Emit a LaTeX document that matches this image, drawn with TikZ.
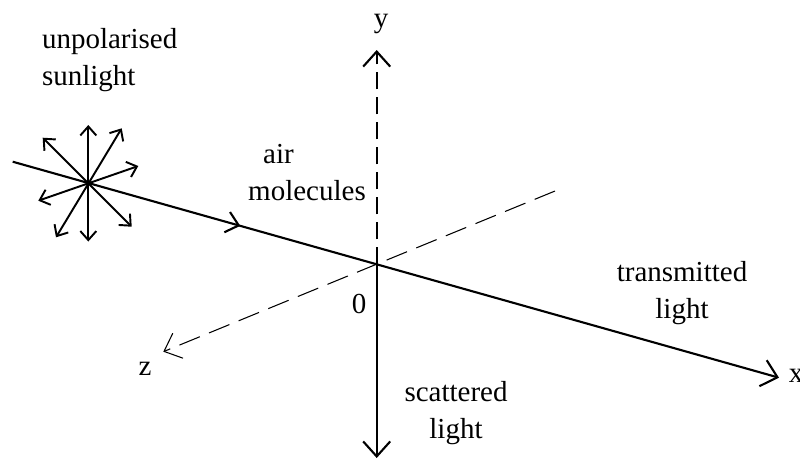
\documentclass[tikz,border=0pt]{standalone}
\usepackage{fontspec}
\setmainfont{Liberation Serif}
\usetikzlibrary{arrows.meta,decorations.markings}

\begin{document}
\begin{tikzpicture}[
  x = 0.02cm, y = -0.02cm,
  every node/.style = {font=\fontsize{16.5}{21}\selectfont, inner sep=0pt},
  %% line styles
  ray/.style     = {line width=1.2pt},
  ydash/.style   = {line width=1.2pt, dash pattern=on 0.34cm off 0.16cm},
  zdash/.style   = {line width=0.6pt, dash pattern=on 0.44cm off 0.2cm},
  %% arrow tips
  bigtip/.style  = {-{Straight Barb[length=0.3cm,width=0.54cm]}},
  pol/.style     = {line width=1.1pt,
                    {Straight Barb[length=0.18cm,width=0.32cm]}-{Straight Barb[length=0.18cm,width=0.32cm]}},
  midtip/.style  = {decoration={markings, mark=at position 0.297 with
                    {\arrow{Straight Barb[length=0.24cm,width=0.42cm]}}},
                    postaction={decorate}},
  lbl/.style     = {anchor=base, align=center}
]

\useasboundingbox (0,0) rectangle (800,464);

%% ---- Points ----
\coordinate (O)    at (376.7,264.3);
\coordinate (src)  at (12.7,161.7);
\coordinate (sun)  at (88.3,183.3);
\coordinate (xtip) at (779,377.7);
\coordinate (ytip) at (376.7,50);
\coordinate (ybot) at (376.7,458);
\coordinate (ztip) at (163.3,351.7);
\coordinate (zfar) at (555,191);

%% ---- Axes ----
\draw[zdash, bigtip] (zfar) -- (ztip);
\draw[ydash, bigtip] (O) -- (ytip);
\draw[ray, bigtip]   (O) -- (ybot);
\draw[ray, bigtip, midtip] (src) -- (xtip);

%% ---- Polarisation star ----
\foreach \ax/\ay/\bx/\by in {88.3/125/88.3/241.5, 121.7/128.3/56/237.3,
                             42.7/137.7/131.7/226.7, 138.3/166/38.3/200.7}
  \draw[pol] (\ax,\ay) -- (\bx,\by);

%% ---- Labels (base = last line) ----
\node[anchor=base west, align=left] (sunlbl) at (41.7,85) {unpolarised\\sunlight};
\node[lbl] (airlbl) at (278.5,163) {air};
\node[lbl] (mollbl) at (307,200)   {molecules};
\node[lbl] (trlbl)  at (682,318)   {transmitted\\light};
\node[lbl] (sclbl)  at (456,438)   {scattered\\light};
\node[lbl] (olbl)   at (359,313)   {0};
\node[lbl] (ylbl)   at (381,27)    {y};
\node[lbl] (zlbl)   at (145,375)   {z};
\node[lbl] (xlbl)   at (796,382)   {x};

\end{tikzpicture}
\end{document}
